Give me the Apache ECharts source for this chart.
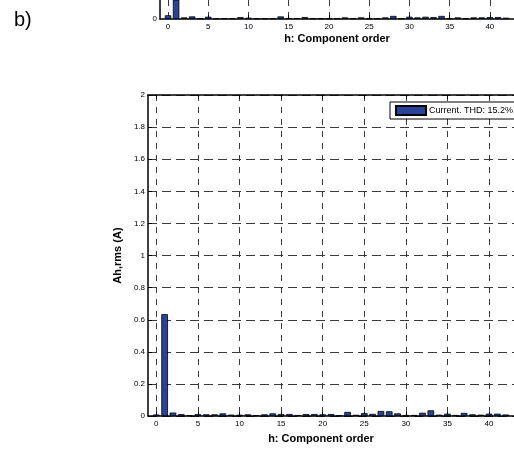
<!DOCTYPE html>
<html>
<head>
<meta charset="utf-8">
<script src="https://cdn.jsdelivr.net/npm/echarts@6/dist/echarts.min.js"></script>
<style>
html,body{margin:0;padding:0;background:#fff;}
#c{width:514px;height:449px;}
</style>
</head>
<body>
<div id="c"></div>
<script>
// Harmonic orders
const orders = [0,1,2,3,4,5,6,7,8,9,10,11,12,13,14,15,16,17,18,19,20,21,22,23,24,25,26,27,28,29,30,31,32,33,34,35,36,37,38,39,40,41,42];
// Main chart (b): current harmonic amplitudes Ah,rms (A)
const mainCurrent = [0.010,0.635,0.022,0.012,0.004,0.012,0.011,0.011,0.017,0.009,0.009,0.011,0.005,0.011,0.017,
  0.013,0.013,0.007,0.013,0.013,0.011,0.013,0.004,0.026,0.008,0.019,0.014,0.032,0.030,0.017,
  0.007,0.007,0.021,0.036,0.009,0.015,0.007,0.020,0.011,0.009,0.015,0.015,0.010];
// Partially visible chart above (a)
const topCurrent = [0.023,0.650,0.010,0.016,0.004,0.014,0.004,0.004,0.004,0.012,0.008,0.004,0.004,0.004,0.016,
  0.006,0.006,0.012,0.004,0.004,0.004,0.004,0.010,0.004,0.010,0.004,0.004,0.010,0.019,0.004,
  0.014,0.010,0.014,0.012,0.019,0.004,0.010,0.004,0.010,0.010,0.012,0.012,0.008];
const legendName = 'Current. THD: 15.2%';
const xTitle = 'h: Component order';
const yTitle = 'Ah,rms (A)';

const cats = ['-1'].concat(orders.map(String), ['43']);
const isTick = (i, v) => Number(v) >= 0 && Number(v) % 5 === 0;
const FONT = 'Liberation Sans, Arial, sans-serif';
const BAR = '#27449a';

function xAx(gridIndex, showName, pos, namePad, nameGap) {
  return {
    type: 'category', gridIndex, data: cats, boundaryGap: false, position: pos || 'bottom',
    axisLine: {show: true, onZero: false, lineStyle: {color: '#000', width: 1.5}},
    axisTick: {show: true, inside: true, length: 4, interval: isTick, lineStyle: {color: '#000'}},
    axisLabel: {show: pos !== 'top', interval: isTick, margin: 4, fontSize: 8, color: '#000', fontFamily: FONT},
    splitLine: {show: pos !== 'top', interval: isTick, lineStyle: {color: '#3a3a3a', width: 1, type: [6, 6]}},
    name: showName ? xTitle : '', nameLocation: 'middle', nameGap: nameGap || 15,
    nameTextStyle: {fontSize: 11, fontWeight: 'bold', color: '#000', fontFamily: FONT, padding: namePad || 0}
  };
}

const chart = echarts.init(document.getElementById('c'));
chart.setOption({
  animation: false,
  backgroundColor: '#fff',
  graphic: [{type: 'text', left: 14, top: 10, style: {text: 'b)', fontSize: 20, fontFamily: FONT, fill: '#000'}}],
  legend: {
    data: [legendName], left: 390, top: 102, orient: 'horizontal',
    padding: [3, 40, 3, 5], itemWidth: 30, itemHeight: 9, itemGap: 4,
    borderColor: '#000', borderWidth: 1, backgroundColor: '#fff', borderRadius: 0,
    textStyle: {fontSize: 9, fontFamily: FONT, color: '#000', padding: [0, 0, 0, -2]}, icon: 'rect'
  },
  grid: [
    {left: 148, top: 95, width: 377, height: 324},
    {left: 160, top: 0, width: 357.5, height: 19}
  ],
  xAxis: [xAx(0, true, 'bottom', [0, 20, 0, 0], 15), xAx(0, false, 'top'), xAx(1, true, 'bottom', 0, 14)],
  yAxis: [
    {
      type: 'value', gridIndex: 0, min: 0, max: 2, interval: 0.2,
      axisLine: {show: true, lineStyle: {color: '#000', width: 1.5}},
      axisTick: {show: true, inside: true, length: 4, lineStyle: {color: '#000'}},
      axisLabel: {margin: 3, fontSize: 8, color: '#000', fontFamily: FONT},
      splitLine: {show: true, lineStyle: {color: '#3a3a3a', width: 1, type: [9, 5]}},
      name: yTitle, nameLocation: 'middle', nameGap: 25,
      nameTextStyle: {fontSize: 11, fontWeight: 'bold', color: '#000', fontFamily: FONT}
    },
    {
      type: 'value', gridIndex: 1, min: 0, max: 0.1173, interval: 0.1,
      axisLine: {show: true, lineStyle: {color: '#000', width: 1.5}},
      axisTick: {show: false},
      axisLabel: {margin: 3, fontSize: 8, color: '#000', fontFamily: FONT,
        formatter: v => (v === 0 ? '0' : '')},
      splitLine: {show: false}
    }
  ],
  series: [
    {
      name: legendName, type: 'bar', xAxisIndex: 0, yAxisIndex: 0, barWidth: '80%',
      itemStyle: {color: BAR, borderColor: '#000', borderWidth: 0.8},
      data: orders.map((h, i) => [String(h), mainCurrent[i]])
    },
    {
      name: 'top', type: 'bar', xAxisIndex: 2, yAxisIndex: 1, barWidth: '80%', clip: true,
      itemStyle: {color: BAR, borderColor: '#000', borderWidth: 0.8},
      data: orders.map((h, i) => [String(h), topCurrent[i]])
    }
  ]
});
</script>
</body>
</html>
